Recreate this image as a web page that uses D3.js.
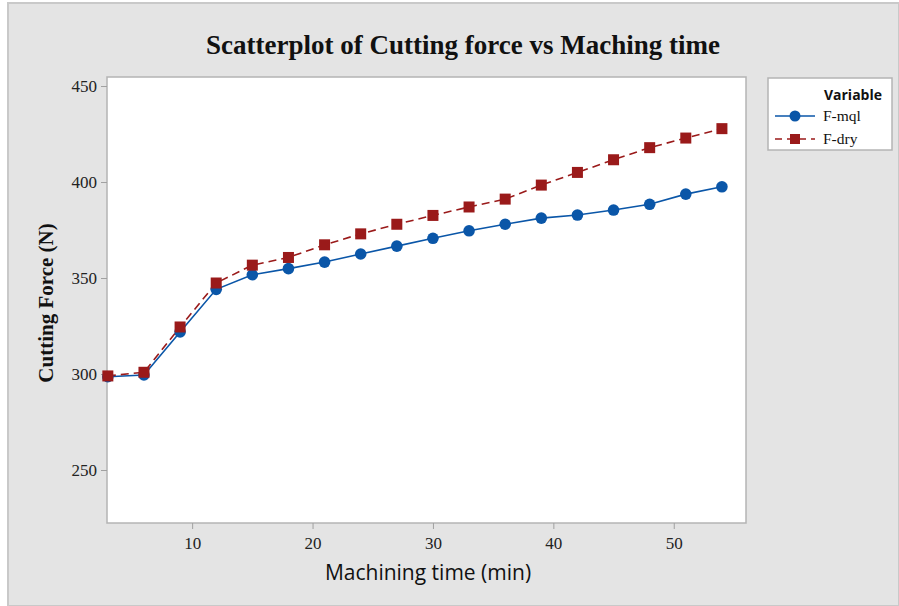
<!DOCTYPE html>
<html><head><meta charset="utf-8">
<script src="https://cdn.jsdelivr.net/npm/d3@7"></script>
<style>body{margin:0;background:#fff}svg{display:block}</style>
</head><body>
<script>
const times = [3,6,9,12,15,18,21,24,27,30,33,36,39,42,45,48,51,54];
const fMql = [298.6,299.5,321.9,344.1,351.7,354.9,358.3,362.5,366.6,370.7,374.6,378.0,381.2,382.8,385.4,388.4,393.7,397.5];
const fDry = [299.0,300.9,324.5,347.4,356.7,360.7,367.3,373.0,378.0,382.6,387.0,391.1,398.4,405.0,411.6,417.9,422.9,427.8];
const xTicks = [10,20,30,40,50];
const yTicks = [250,300,350,400,450];
const seriesNames = ["F-mql","F-dry"];

const W = 899, H = 606;
const svg = d3.select("body").append("svg").attr("width", W).attr("height", H);
svg.append("rect").attr("x",8).attr("y",3).attr("width",W-8).attr("height",H-3)
  .attr("fill","#e4e4e4").attr("stroke","#c9c9c9").attr("stroke-width",2);

const L = 107, T = 77, R = 746, B = 523;
const x = d3.scaleLinear().domain([2.93, 56.0]).range([L, R]);
const y = d3.scaleLinear().domain([222.4, 454.7]).range([B, T]);

svg.append("rect").attr("x",L).attr("y",T).attr("width",R-L).attr("height",B-T)
  .attr("fill","#fff").attr("stroke","#b4b4b4").attr("stroke-width",1.5);

const xAxis = svg.append("g").attr("transform",`translate(0,${B})`)
  .call(d3.axisBottom(x).tickValues(xTicks).tickSize(6).tickPadding(8).tickFormat(d3.format("d")));
const yAxis = svg.append("g").attr("transform",`translate(${L},0)`)
  .call(d3.axisLeft(y).tickValues(yTicks).tickSize(6).tickPadding(4).tickFormat(d3.format("d")));
[xAxis,yAxis].forEach(a=>{
  a.select(".domain").remove();
  a.selectAll(".tick line").attr("stroke","#a0a0a0");
  a.selectAll(".tick text").attr("font-family","Liberation Serif").attr("font-size",17).attr("fill","#222");
});

const ptsMql = times.map((t,i)=>[t,fMql[i]]);
const ptsDry = times.map((t,i)=>[t,fDry[i]]);
const line = d3.line().x(d=>x(d[0])).y(d=>y(d[1]));
const blue = "#0a56a8", red = "#9a1a1a";

svg.append("path").datum(ptsMql).attr("d",line).attr("fill","none").attr("stroke",blue).attr("stroke-width",1.6);
svg.append("path").datum(ptsDry).attr("d",line).attr("fill","none").attr("stroke",red).attr("stroke-width",1.6).attr("stroke-dasharray","8,5");

svg.append("g").selectAll("circle").data(ptsMql).join("circle")
  .attr("cx",d=>x(d[0])).attr("cy",d=>y(d[1])).attr("r",5.8).attr("fill",blue);
svg.append("g").selectAll("rect").data(ptsDry).join("rect")
  .attr("x",d=>x(d[0])-5.5).attr("y",d=>y(d[1])-5.5).attr("width",11).attr("height",11).attr("fill",red);

svg.append("text").attr("x",463).attr("y",54).attr("text-anchor","middle")
  .attr("font-family","Liberation Serif").attr("font-weight","bold").attr("font-size",27).attr("fill","#111")
  .text("Scatterplot of Cutting force vs Maching time");
svg.append("text").attr("x",428).attr("y",580).attr("text-anchor","middle")
  .attr("font-family","Open Sans").attr("font-weight",500).attr("font-size",21).attr("fill","#111")
  .text("Machining time (min)");
svg.append("text").attr("transform",`translate(53,${(T+B)/2+3}) rotate(-90)`).attr("text-anchor","middle")
  .attr("font-family","Liberation Serif").attr("font-weight","bold").attr("font-size",21).attr("fill","#111")
  .text("Cutting Force (N)");

const lg = svg.append("g");
lg.append("rect").attr("x",768).attr("y",78).attr("width",124).attr("height",72)
  .attr("fill","#fff").attr("stroke","#b4b4b4").attr("stroke-width",1.5);
lg.append("text").attr("x",882).attr("y",100).attr("text-anchor","end")
  .attr("font-family","Open Sans").attr("font-weight","bold").attr("font-size",14).attr("fill","#111").text("Variable");
seriesNames.forEach((n,i)=>{
  const yy = 116 + i*23;
  const c = i===0?blue:red;
  lg.append("line").attr("x1",775).attr("x2",815).attr("y1",yy).attr("y2",yy).attr("stroke",c)
    .attr("stroke-width",1.6).attr("stroke-dasharray",i===0?null:"7,5");
  if(i===0) lg.append("circle").attr("cx",795).attr("cy",yy).attr("r",5.5).attr("fill",c);
  else lg.append("rect").attr("x",790).attr("y",yy-5).attr("width",10).attr("height",10).attr("fill",c);
  lg.append("text").attr("x",823).attr("y",yy+5).attr("font-family","Liberation Serif").attr("font-size",15.5)
    .attr("fill","#111").text(n);
});
</script>
</body></html>
